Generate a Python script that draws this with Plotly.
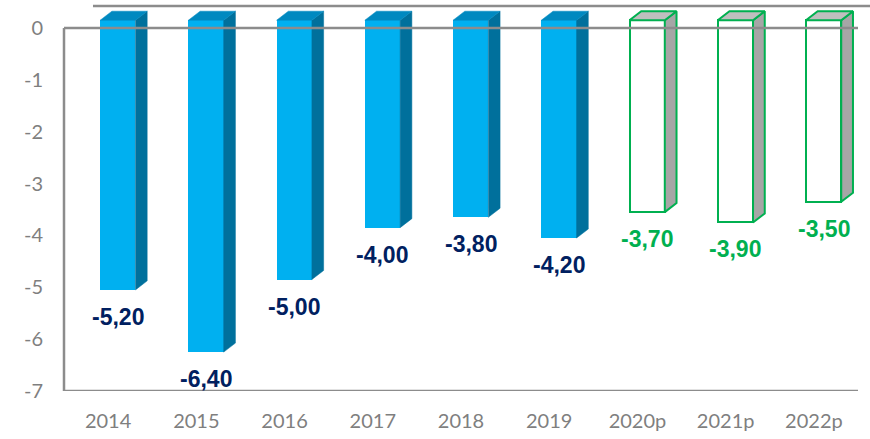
import plotly.graph_objects as go

# Budget balance by year (actual and projected)
years = ["2014", "2015", "2016", "2017", "2018", "2019", "2020p", "2021p", "2022p"]
values = [-5.20, -6.40, -5.00, -4.00, -3.80, -4.20, -3.70, -3.90, -3.50]
projected = [False, False, False, False, False, False, True, True, True]
y_ticks = [0, -1, -2, -3, -4, -5, -6, -7]

# 3D look of the columns, in axis units
FRONT_DX = 0.11      # front face shift to the right of the category
FRONT_DY = 0.15      # front face lifted above the value axis
BAR_W = 0.40         # front face width
DEPTH_X = 0.133      # depth of the column, horizontal part
DEPTH_Y = 0.174      # depth of the column, vertical part

BLUE_FRONT = "#00B0F0"
BLUE_TOP = "#0089C0"
BLUE_SIDE = "#00709C"
GREEN = "#00B050"
GREY_TOP = "#BFBFBF"
GREY_SIDE = "#A6A6A6"
NAVY = "#002060"
AXIS_GREY = "#8C8C8C"

fig = go.Figure()

xs = [i + FRONT_DX for i in range(len(years))]
fig.add_trace(go.Bar(
    x=xs, y=values, base=[FRONT_DY] * len(values), width=BAR_W,
    marker=dict(
        color=["white" if p else BLUE_FRONT for p in projected],
        line=dict(color=[GREEN if p else BLUE_FRONT for p in projected],
                  width=[2 if p else 0 for p in projected]),
    ),
    hoverinfo="skip", showlegend=False,
))

# side and top faces of each column
for x, v, p in zip(xs, values, projected):
    xl, xr = x - BAR_W / 2, x + BAR_W / 2
    top, bot = FRONT_DY, v + FRONT_DY
    side_x = [xr, xr + DEPTH_X, xr + DEPTH_X, xr, xr]
    side_y = [top, top + DEPTH_Y, bot + DEPTH_Y, bot, top]
    top_x = [xl, xl + DEPTH_X, xr + DEPTH_X, xr, xl]
    top_y = [top, top + DEPTH_Y, top + DEPTH_Y, top, top]
    for fx, fy, col in ((side_x, side_y, GREY_SIDE if p else BLUE_SIDE),
                        (top_x, top_y, GREY_TOP if p else BLUE_TOP)):
        fig.add_trace(go.Scatter(
            x=fx, y=fy, mode="lines", fill="toself", fillcolor=col,
            line=dict(color=GREEN if p else col, width=2 if p else 0.5),
            hoverinfo="skip", showlegend=False,
        ))

# value labels under each column
for x, v, p in zip(xs, values, projected):
    fig.add_annotation(
        x=x, y=v + FRONT_DY, yshift=-27, yanchor="middle", showarrow=False,
        text=f"{v:.2f}".replace(".", ","),
        font=dict(family="Arial, Liberation Sans", size=23,
                  color=GREEN if p else NAVY, weight="bold"),
    )

# frame: left and bottom edges, zero line on top, back-wall edge
fig.add_shape(type="line", xref="paper", yref="y", x0=0, x1=0, y0=0, y1=-7,
              line=dict(color=AXIS_GREY, width=2.5))
fig.add_shape(type="line", xref="paper", yref="y", x0=0, x1=1, y0=-7, y1=-7,
              line=dict(color=AXIS_GREY, width=2.5))
fig.add_shape(type="line", xref="paper", yref="y", x0=0, x1=1, y0=0, y1=0,
              line=dict(color=AXIS_GREY, width=2.5), layer="above")
fig.add_shape(type="line", xref="paper", yref="paper", x0=0.0365, x1=1.02,
              y0=0.9847, y1=0.9847, line=dict(color=AXIS_GREY, width=2.5))

tick_font = dict(family="Lato, Open Sans", size=20, color="#7F7F7F")
fig.update_xaxes(
    range=[-0.5, 8.5], tickvals=list(range(len(years))), ticktext=years,
    showgrid=False, zeroline=False, showline=False, ticks="",
    tickfont=tick_font, ticklabelstandoff=16,
)
fig.update_yaxes(
    range=[-7, 0.54], tickvals=y_ticks, ticktext=[str(t) for t in y_ticks],
    showgrid=False, zeroline=False, showline=False, ticks="",
    tickfont=tick_font, ticklabelstandoff=20,
)
fig.update_layout(
    width=870, height=439, margin=dict(l=64, r=12, t=0, b=48),
    plot_bgcolor="white", paper_bgcolor="white", bargap=0,
)

fig.write_html("out.html")
